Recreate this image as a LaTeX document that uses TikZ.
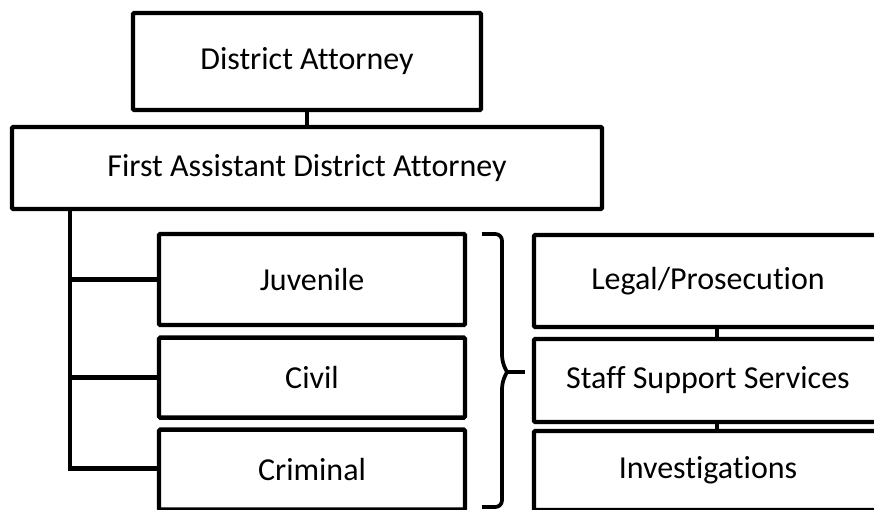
\documentclass[tikz,border=0pt]{standalone}
\usepackage{fontspec}
\setmainfont[Ligatures=NoCommon]{Carlito}
\usepackage{tikz}
\usetikzlibrary{positioning, calc}

\begin{document}
\begin{tikzpicture}[
    x=0.75pt, y=-0.75pt,
    node distance=9.5pt,
    orgbox/.style={rectangle, draw, line width=3.3pt, rounded corners=1pt, outer sep=0pt, inner sep=0pt, align=center, font=\fontsize{24}{28}\selectfont},
    link/.style={line width=3.3pt},
    bracket/.style={line width=2.8pt, line join=round}
]
\useasboundingbox (0,0) rectangle (874,510);
\clip (0,0) rectangle (874,510);

% Top of the chart
\node[orgbox, minimum width=261pt, minimum height=72.75pt] at (307,61.5) (da) {District Attorney};
\node[orgbox, minimum width=442.5pt, minimum height=61.5pt] at (307,168) (fada) {First Assistant District Attorney};

% Divisions (left column)
\node[orgbox, minimum width=229.5pt, minimum height=68.25pt] at (312,279.5) (juvenile) {Juvenile};
\node[orgbox, minimum width=229.5pt, minimum height=60pt, below=of juvenile] (civil) {Civil};
\node[orgbox, minimum width=229.5pt, minimum height=60pt, below=9pt of civil] (criminal) {Criminal};

% Functions (right column)
\node[orgbox, minimum width=261pt, minimum height=69pt] at (708,281) (legal) {Legal/Prosecution};
\node[orgbox, minimum width=261pt, minimum height=62.25pt, below=9pt of legal] (staff) {Staff Support Services};
\node[orgbox, minimum width=261pt, minimum height=59.25pt, below=6.75pt of staff] (invest) {Investigations};

% === Connectors ===
\draw[link] (da.south) -- (fada.north);

% trunk down the left side
\coordinate (trunk) at ([xshift=43.5pt]fada.south west);
\draw[link] (trunk) |- ([yshift=0.75pt]criminal.west);
\draw[link] (trunk |- juvenile.west) -- (juvenile.west);
\draw[link] (trunk |- civil.west) -- (civil.west);

% right column links
\draw[link] ([xshift=6.75pt]legal.south) -- ([xshift=6.75pt]staff.north);
\draw[link] ([xshift=6.75pt]staff.south) -- ([xshift=6.75pt]invest.north);

% brace between the columns
\draw[bracket, rounded corners=5pt] (482,234) -| (502,362) -- (507,372);
\draw[bracket, rounded corners=5pt] (482,507) -| (502,382) -- (507,372);
\draw[bracket] (507,372) -- (525,372);
\end{tikzpicture}
\end{document}
